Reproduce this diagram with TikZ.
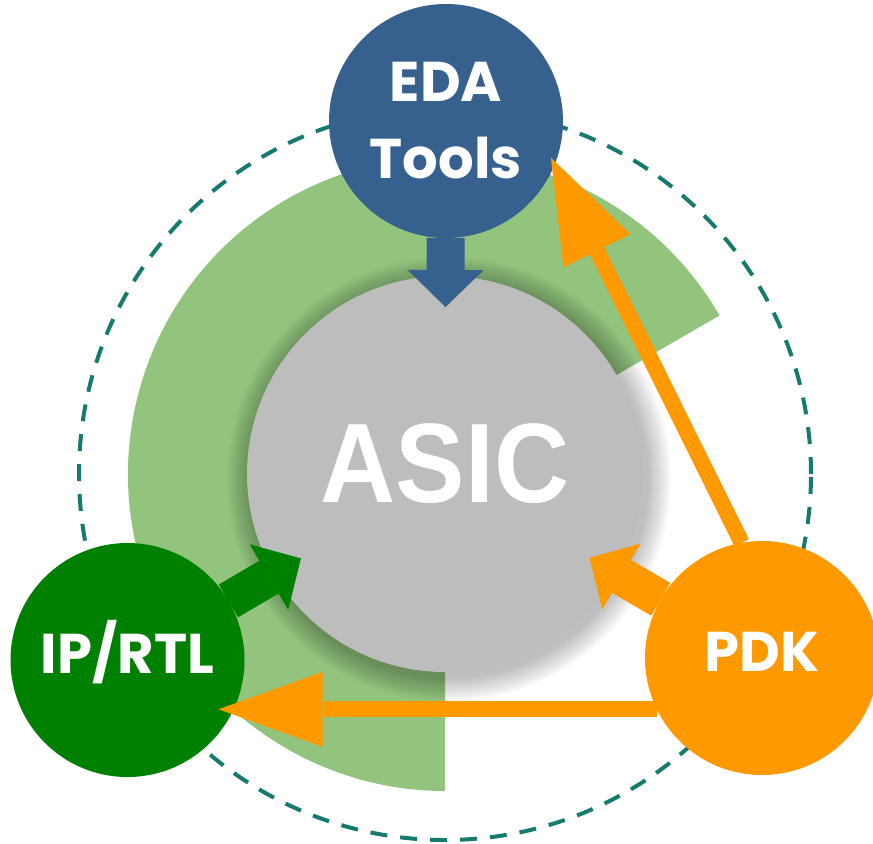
\documentclass[tikz,border=0pt]{standalone}
\usepackage{fontspec}
\usetikzlibrary{arrows.meta}
\newfontfamily\asicfont{Liberation Sans}[FakeStretch=0.92]
\newfontfamily\tagfont{Poppins}
\definecolor{edablue}{HTML}{36618F}
\definecolor{rtlgreen}{HTML}{008000}
\definecolor{pdkorange}{HTML}{FF9900}
\definecolor{ringgreen}{HTML}{93C47D}
\definecolor{asicgray}{HTML}{BDBDBD}
\definecolor{dashteal}{HTML}{167A6E}

\begin{document}
\begin{tikzpicture}
  [x=0.5pt,y=0.5pt,
   hub/.style={circle,fill=asicgray,minimum size=198pt,inner sep=0pt,outer sep=0pt,text=white,font=\asicfont\bfseries\fontsize{56.5}{56.5}\selectfont,text depth=10.5pt},
   src/.style={circle,minimum size=117pt,inner sep=0pt,outer sep=0pt,text=white,font=\tagfont\bfseries\fontsize{28}{38.5}\selectfont},
   one line/.style={text height=19.6pt,text depth=6pt},
   fat/.style={line width=19pt,-{Triangle[length=18.5pt,width=38pt,line width=0pt]},shorten >=-15.5pt},
   thin/.style={pdkorange,line width=8pt,-{Triangle[length=52pt,width=37.5pt,line width=0pt]}}]
  \useasboundingbox (0,0) rectangle (873,-843);
  \coordinate (mid) at (445,-474);
  \draw[dashteal,line width=2pt,dash pattern=on 8.5pt off 6.5pt] (mid) circle[radius=183pt];
  \fill[ringgreen] (mid) -- ++(30:158.5pt) arc[start angle=30,end angle=270,radius=158.5pt] -- cycle;
  \foreach \i in {1,...,12}
    \fill[black,opacity=0.025] ([shift={(2pt,-2.5pt)}]mid) circle[radius=99pt+\i*1pt];

  \node[hub] (asic) at (mid) {ASIC};
  \node[src,fill=edablue,align=center] (eda) at (446,-121) {EDA\\Tools};
  \node[src,one line,fill=rtlgreen] (iprtl) at (127.5,-660) {IP/RTL};
  \node[src,one line,fill=pdkorange] (pdk) at (762,-658) {PDK};

  \foreach \from/\col in {eda/edablue,iprtl/rtlgreen,pdk/pdkorange}
    \draw[fat,\col] (\from) -- (asic);
  \draw[thin,shorten >=-4pt] (pdk.100) -- (eda.-22);
  \draw[thin,shorten >=-13pt] (pdk.206) -- (pdk.206 -| iprtl.east);
\end{tikzpicture}
\end{document}
